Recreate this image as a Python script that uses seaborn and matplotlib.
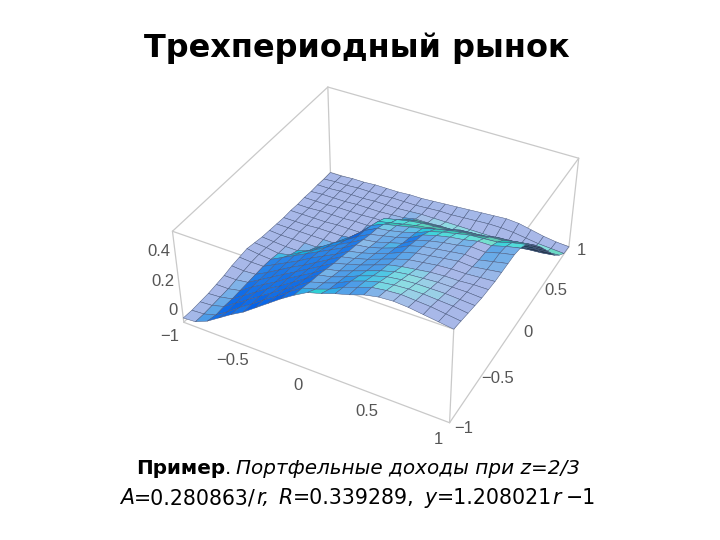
import numpy as np
import matplotlib
matplotlib.use("Agg")
import matplotlib.pyplot as plt
from mpl_toolkits.mplot3d import proj3d
import seaborn as sns

# Axis ticks
x_ticks = [-1, -0.5, 0, 0.5, 1]
y_ticks = [-1, -0.5, 0, 0.5, 1]
z_ticks = [0, 0.2, 0.4]
x_tick_labels = ["\u22121", "\u22120.5", "0", "0.5", "1"]
y_tick_labels = ["\u22121", "\u22120.5", "0", "0.5", "1"]
z_tick_labels = ["0", "0.2", "0.4"]

x_grid = [-1.0, -0.9, -0.8, -0.7, -0.6, -0.5, -0.4, -0.3, -0.2, -0.1, 0.0,
          0.1, 0.2, 0.3, 0.4, 0.5, 0.6, 0.7, 0.8, 0.9, 1.0]
y_grid = x_grid

Z_TOP = 0.62

# Surface height, as a fraction of the box height (rows = y, columns = x)
heights = [
    [.05, .06, .12, .21, .30, .38, .48, .58, .68, .77, .85, .89, .94, .98, 1.03, 1.06, 1.07, 1.06, 1.04, 1.02, 1.00],
    [.04, .05, .09, .18, .28, .37, .47, .56, .66, .75, .79, .84, .91, .96, 1.01, 1.03, 1.04, 1.03, 1.02, 1.00, .98],
    [.04, .05, .09, .18, .27, .36, .45, .54, .63, .72, .76, .81, .88, .93, .97, .99, 1.00, 1.00, .99, .98, .96],
    [.04, .05, .08, .17, .26, .35, .43, .52, .61, .70, .73, .78, .84, .89, .93, .95, .96, .96, .96, .95, .94],
    [.05, .05, .08, .17, .25, .33, .42, .50, .58, .67, .70, .75, .80, .85, .89, .91, .92, .93, .93, .93, .92],
    [.06, .06, .08, .16, .24, .32, .40, .48, .56, .64, .68, .72, .77, .82, .85, .87, .89, .90, .90, .91, .91],
    [.08, .07, .08, .15, .23, .31, .38, .46, .54, .62, .65, .69, .74, .79, .83, .85, .87, .88, .88, .89, .90],
    [.09, .08, .08, .15, .22, .29, .37, .44, .51, .59, .62, .66, .71, .77, .81, .83, .85, .87, .86, .88, .90],
    [.10, .08, .07, .14, .21, .28, .35, .42, .49, .57, .59, .63, .68, .75, .79, .81, .83, .85, .84, .87, .90],
    [.08, .07, .05, .08, .16, .23, .31, .39, .46, .54, .56, .60, .64, .72, .76, .79, .81, .84, .83, .87, .90],
    [.06, .05, .04, .04, .09, .18, .27, .35, .44, .51, .54, .57, .61, .69, .73, .76, .78, .81, .81, .85, .88],
    [.05, .04, .04, .04, .04, .10, .21, .31, .42, .49, .51, .54, .58, .64, .68, .71, .74, .75, .76, .80, .83],
    [.04, .04, .04, .04, .04, .04, .12, .26, .39, .45, .48, .51, .54, .58, .61, .64, .65, .68, .69, .72, .74],
    [.03, .03, .03, .04, .04, .04, .06, .18, .35, .38, .41, .44, .46, .48, .53, .55, .56, .59, .60, .62, .64],
    [.03, .03, .03, .03, .04, .04, .04, .10, .30, .33, .36, .38, .39, .40, .44, .45, .46, .49, .50, .52, .53],
    [.02, .02, .03, .03, .03, .04, .04, .05, .12, .25, .28, .29, .30, .31, .33, .33, .34, .36, .38, .40, .41],
    [.02, .02, .02, .03, .03, .03, .04, .04, .06, .14, .16, .18, .19, .20, .21, .22, .23, .24, .26, .28, .29],
    [.01, .02, .02, .02, .03, .03, .03, .04, .05, .08, .08, .09, .09, .09, .09, .10, .11, .12, .14, .15, .17],
    [.01, .01, .02, .02, .02, .03, .03, .03, .04, .05, .05, .05, .05, .05, .05, .05, .05, .06, .07, .07, .08],
    [.00, .01, .01, .02, .02, .02, .03, .03, .03, .04, .05, .05, .06, .07, .08, .08, .07, .05, .03, .02, .01],
    [.00, .00, .01, .01, .02, .02, .02, .03, .03, .04, .05, .06, .07, .08, .09, .10, .09, .06, .03, .01, .00],
]

BOX_ASPECT = (1, 1, 0.39)

sns.set_theme(style="white")
plt.rcParams["font.family"] = ["DejaVu Sans"]

X, Y = np.meshgrid(x_grid, y_grid)
Z = np.array(heights) * Z_TOP

# Colours come from the facet normals, in box units
dzdx = (np.diff(Z, axis=1)[:-1, :] + np.diff(Z, axis=1)[1:, :]) / 2 / 0.1
dzdy = (np.diff(Z, axis=0)[:, :-1] + np.diff(Z, axis=0)[:, 1:]) / 2 / 0.1
sx = dzdx * (0.48 / Z_TOP) / 0.5
sy = dzdy * (0.48 / Z_TOP) / 0.5
norm = np.sqrt(sx ** 2 + sy ** 2 + 1)
v = np.clip(sx / norm - 0.08, 0, 1)
u = np.clip((-sy / norm - 0.26) / 0.5, 0, 1)
red = 0.66 - 1.05 * v - 0.5 * u
green = 0.72 - 0.9 * v ** 2 + 1.0 * u - 1.5 * u ** 2
blue = 0.91 - 0.6 * u ** 2
face_colors = np.clip(np.dstack([red, green, blue, np.ones_like(red)]), 0, 1)

fig = plt.figure(figsize=(7.2, 5.4), dpi=100, facecolor="white")
ax = fig.add_axes([0.022, 0.043, 1, 1], projection="3d", computed_zorder=False)
ax.set_proj_type("persp", focal_length=0.45)
ax.view_init(elev=38, azim=-62)
ax.set_box_aspect(BOX_ASPECT, zoom=0.77)
ax.set_xlim(-1, 1)
ax.set_ylim(-1, 1)
ax.set_zlim(0, Z_TOP)
ax.set_axis_off()
ax.patch.set_alpha(0)

# Bounding box, behind the surface
frame = dict(color="#c9c9c9", lw=0.9, zorder=1)
for s in [-1, 1]:
    for t in [0, Z_TOP]:
        ax.plot([-1, 1], [s, s], [t, t], **frame)
        ax.plot([s, s], [-1, 1], [t, t], **frame)
    for t in [-1, 1]:
        ax.plot([s, s], [t, t], [0, Z_TOP], **frame)

ax.plot_surface(X, Y, Z, facecolors=face_colors, rstride=1, cstride=1, shade=False,
                edgecolor="#4a5a80", linewidth=0.35, antialiased=True, zorder=2)


def tick_label(px, py, pz, text, ha="center"):
    # Project by hand so the label is a plain 2D text
    x2, y2, _ = proj3d.proj_transform(px, py, pz, ax.get_proj())
    ax.text2D(x2, y2, text, transform=ax.transData, family="Liberation Sans", fontsize=12,
              color="#555555", ha=ha, va="center")


for val, lab in zip(x_ticks, x_tick_labels):
    tick_label(val, -1.16, 0, lab)
for val, lab in zip(y_ticks, y_tick_labels):
    tick_label(1.10, val, 0, lab)
for val, lab in zip(z_ticks, z_tick_labels):
    tick_label(-1.02, -1.02, val + 0.09, lab, ha="right")

fig.text(357 / 720, 1 - 48 / 540, "Трехпериодный рынок", fontsize=23, fontweight="bold",
         color="black", ha="center", va="center")


def rich_line(y_px, pieces, size=14):
    # Lay out runs of different style side by side, centred on the slide
    renderer = fig.canvas.get_renderer()
    runs = []
    total = 0
    for text, weight, style, gap in pieces:
        t = fig.text(0, 1 - y_px / 540, text, fontsize=size, fontweight=weight, fontstyle=style,
                     color="black", ha="left", va="baseline")
        w = t.get_window_extent(renderer).width
        runs.append((t, w, gap))
        total += w + gap
    pos = 358 - total / 2
    for t, w, gap in runs:
        t.set_x(pos / 720)
        pos += w + gap


rich_line(474, [("Пример", "bold", "normal", 0), (".", "normal", "normal", 5),
                ("Портфельные доходы при z=2/3", "normal", "italic", 0)], size=14.4)
rich_line(504, [("A", "normal", "italic", 0), ("=0.280863/", "normal", "normal", 0),
                ("r,", "normal", "italic", 10), ("R", "normal", "italic", 0),
                ("=0.339289,", "normal", "normal", 10), ("y", "normal", "italic", 0),
                ("=1.208021", "normal", "normal", 0), ("r", "normal", "italic", 5),
                ("\u22121", "normal", "normal", 0)], size=14.8)

fig.savefig("out.png", dpi=100)
